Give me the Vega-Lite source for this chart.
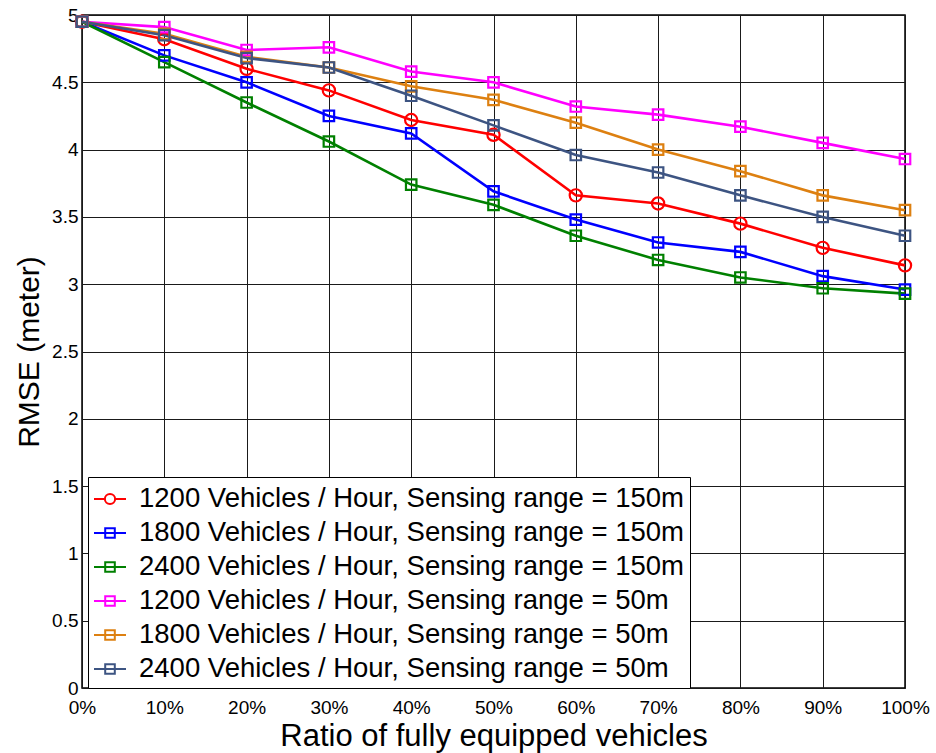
{
  "$schema": "https://vega.github.io/schema/vega-lite/v6.json",
  "width": 823,
  "height": 673,
  "autosize": "none",
  "padding": {"left": 82, "top": 15, "right": 31, "bottom": 65},
  "background": "white",
  "config": {
    "font": "Liberation Sans",
    "view": {"stroke": "black", "strokeWidth": 1.5},
    "axis": {
      "labelFont": "Liberation Sans",
      "labelFontSize": 19,
      "labelColor": "black",
      "labelFlush": false,
      "labelOverlap": false,
      "titleFont": "Liberation Sans",
      "titleFontWeight": "normal",
      "titleColor": "black",
      "grid": true,
      "gridColor": "#1a1a1a",
      "gridOpacity": 1,
      "gridWidth": 1,
      "domain": false,
      "ticks": false,
      "labelPadding": 4
    },
    "legend": {
      "strokeColor": "black",
      "fillColor": "white",
      "padding": 5,
      "labelFont": "Liberation Sans",
      "labelFontSize": 27.5,
      "labelColor": "black",
      "labelLimit": 1000,
      "labelOffset": 12,
      "symbolSize": 1024,
      "symbolStrokeWidth": 2,
      "symbolOpacity": 1,
      "symbolFillColor": "transparent",
      "rowPadding": 3
    }
  },
  "datasets": {
    "rmse": [
      {"series": "1200 Vehicles / Hour, Sensing range = 150m", "ratio": 0, "rmse": 4.95},
      {"series": "1200 Vehicles / Hour, Sensing range = 150m", "ratio": 10, "rmse": 4.82},
      {"series": "1200 Vehicles / Hour, Sensing range = 150m", "ratio": 20, "rmse": 4.60},
      {"series": "1200 Vehicles / Hour, Sensing range = 150m", "ratio": 30, "rmse": 4.44},
      {"series": "1200 Vehicles / Hour, Sensing range = 150m", "ratio": 40, "rmse": 4.22},
      {"series": "1200 Vehicles / Hour, Sensing range = 150m", "ratio": 50, "rmse": 4.11},
      {"series": "1200 Vehicles / Hour, Sensing range = 150m", "ratio": 60, "rmse": 3.66},
      {"series": "1200 Vehicles / Hour, Sensing range = 150m", "ratio": 70, "rmse": 3.60},
      {"series": "1200 Vehicles / Hour, Sensing range = 150m", "ratio": 80, "rmse": 3.45},
      {"series": "1200 Vehicles / Hour, Sensing range = 150m", "ratio": 90, "rmse": 3.27},
      {"series": "1200 Vehicles / Hour, Sensing range = 150m", "ratio": 100, "rmse": 3.14},
      {"series": "1800 Vehicles / Hour, Sensing range = 150m", "ratio": 0, "rmse": 4.95},
      {"series": "1800 Vehicles / Hour, Sensing range = 150m", "ratio": 10, "rmse": 4.70},
      {"series": "1800 Vehicles / Hour, Sensing range = 150m", "ratio": 20, "rmse": 4.50},
      {"series": "1800 Vehicles / Hour, Sensing range = 150m", "ratio": 30, "rmse": 4.25},
      {"series": "1800 Vehicles / Hour, Sensing range = 150m", "ratio": 40, "rmse": 4.12},
      {"series": "1800 Vehicles / Hour, Sensing range = 150m", "ratio": 50, "rmse": 3.69},
      {"series": "1800 Vehicles / Hour, Sensing range = 150m", "ratio": 60, "rmse": 3.48},
      {"series": "1800 Vehicles / Hour, Sensing range = 150m", "ratio": 70, "rmse": 3.31},
      {"series": "1800 Vehicles / Hour, Sensing range = 150m", "ratio": 80, "rmse": 3.24},
      {"series": "1800 Vehicles / Hour, Sensing range = 150m", "ratio": 90, "rmse": 3.06},
      {"series": "1800 Vehicles / Hour, Sensing range = 150m", "ratio": 100, "rmse": 2.96},
      {"series": "2400 Vehicles / Hour, Sensing range = 150m", "ratio": 0, "rmse": 4.95},
      {"series": "2400 Vehicles / Hour, Sensing range = 150m", "ratio": 10, "rmse": 4.65},
      {"series": "2400 Vehicles / Hour, Sensing range = 150m", "ratio": 20, "rmse": 4.35},
      {"series": "2400 Vehicles / Hour, Sensing range = 150m", "ratio": 30, "rmse": 4.06},
      {"series": "2400 Vehicles / Hour, Sensing range = 150m", "ratio": 40, "rmse": 3.74},
      {"series": "2400 Vehicles / Hour, Sensing range = 150m", "ratio": 50, "rmse": 3.59},
      {"series": "2400 Vehicles / Hour, Sensing range = 150m", "ratio": 60, "rmse": 3.36},
      {"series": "2400 Vehicles / Hour, Sensing range = 150m", "ratio": 70, "rmse": 3.18},
      {"series": "2400 Vehicles / Hour, Sensing range = 150m", "ratio": 80, "rmse": 3.05},
      {"series": "2400 Vehicles / Hour, Sensing range = 150m", "ratio": 90, "rmse": 2.97},
      {"series": "2400 Vehicles / Hour, Sensing range = 150m", "ratio": 100, "rmse": 2.93},
      {"series": "1200 Vehicles / Hour, Sensing range = 50m", "ratio": 0, "rmse": 4.95},
      {"series": "1200 Vehicles / Hour, Sensing range = 50m", "ratio": 10, "rmse": 4.91},
      {"series": "1200 Vehicles / Hour, Sensing range = 50m", "ratio": 20, "rmse": 4.74},
      {"series": "1200 Vehicles / Hour, Sensing range = 50m", "ratio": 30, "rmse": 4.76},
      {"series": "1200 Vehicles / Hour, Sensing range = 50m", "ratio": 40, "rmse": 4.58},
      {"series": "1200 Vehicles / Hour, Sensing range = 50m", "ratio": 50, "rmse": 4.50},
      {"series": "1200 Vehicles / Hour, Sensing range = 50m", "ratio": 60, "rmse": 4.32},
      {"series": "1200 Vehicles / Hour, Sensing range = 50m", "ratio": 70, "rmse": 4.26},
      {"series": "1200 Vehicles / Hour, Sensing range = 50m", "ratio": 80, "rmse": 4.17},
      {"series": "1200 Vehicles / Hour, Sensing range = 50m", "ratio": 90, "rmse": 4.05},
      {"series": "1200 Vehicles / Hour, Sensing range = 50m", "ratio": 100, "rmse": 3.93},
      {"series": "1800 Vehicles / Hour, Sensing range = 50m", "ratio": 0, "rmse": 4.95},
      {"series": "1800 Vehicles / Hour, Sensing range = 50m", "ratio": 10, "rmse": 4.86},
      {"series": "1800 Vehicles / Hour, Sensing range = 50m", "ratio": 20, "rmse": 4.69},
      {"series": "1800 Vehicles / Hour, Sensing range = 50m", "ratio": 30, "rmse": 4.61},
      {"series": "1800 Vehicles / Hour, Sensing range = 50m", "ratio": 40, "rmse": 4.47},
      {"series": "1800 Vehicles / Hour, Sensing range = 50m", "ratio": 50, "rmse": 4.37},
      {"series": "1800 Vehicles / Hour, Sensing range = 50m", "ratio": 60, "rmse": 4.20},
      {"series": "1800 Vehicles / Hour, Sensing range = 50m", "ratio": 70, "rmse": 4.00},
      {"series": "1800 Vehicles / Hour, Sensing range = 50m", "ratio": 80, "rmse": 3.84},
      {"series": "1800 Vehicles / Hour, Sensing range = 50m", "ratio": 90, "rmse": 3.66},
      {"series": "1800 Vehicles / Hour, Sensing range = 50m", "ratio": 100, "rmse": 3.55},
      {"series": "2400 Vehicles / Hour, Sensing range = 50m", "ratio": 0, "rmse": 4.95},
      {"series": "2400 Vehicles / Hour, Sensing range = 50m", "ratio": 10, "rmse": 4.85},
      {"series": "2400 Vehicles / Hour, Sensing range = 50m", "ratio": 20, "rmse": 4.68},
      {"series": "2400 Vehicles / Hour, Sensing range = 50m", "ratio": 30, "rmse": 4.61},
      {"series": "2400 Vehicles / Hour, Sensing range = 50m", "ratio": 40, "rmse": 4.40},
      {"series": "2400 Vehicles / Hour, Sensing range = 50m", "ratio": 50, "rmse": 4.18},
      {"series": "2400 Vehicles / Hour, Sensing range = 50m", "ratio": 60, "rmse": 3.96},
      {"series": "2400 Vehicles / Hour, Sensing range = 50m", "ratio": 70, "rmse": 3.83},
      {"series": "2400 Vehicles / Hour, Sensing range = 50m", "ratio": 80, "rmse": 3.66},
      {"series": "2400 Vehicles / Hour, Sensing range = 50m", "ratio": 90, "rmse": 3.50},
      {"series": "2400 Vehicles / Hour, Sensing range = 50m", "ratio": 100, "rmse": 3.36}
    ]
  },
  "data": {"name": "rmse"},
  "encoding": {
    "x": {
      "field": "ratio",
      "type": "quantitative",
      "scale": {"domain": [0, 100], "nice": false},
      "axis": {
        "title": "Ratio of fully equipped vehicles",
        "titleFontSize": 31,
        "values": [0, 10, 20, 30, 40, 50, 60, 70, 80, 90, 100],
        "labelExpr": "datum.value + '%'",
        "labelPadding": 10,
        "titlePadding": 4
      }
    },
    "y": {
      "field": "rmse",
      "type": "quantitative",
      "scale": {"domain": [0, 5], "nice": false},
      "axis": {
        "title": "RMSE (meter)",
        "titleFontSize": 30,
        "values": [0, 0.5, 1, 1.5, 2, 2.5, 3, 3.5, 4, 4.5, 5],
        "format": "~g",
        "titlePadding": 7
      }
    },
    "color": {
      "field": "series",
      "type": "nominal",
      "scale": {
        "domain": [
          "1200 Vehicles / Hour, Sensing range = 150m",
          "1800 Vehicles / Hour, Sensing range = 150m",
          "2400 Vehicles / Hour, Sensing range = 150m",
          "1200 Vehicles / Hour, Sensing range = 50m",
          "1800 Vehicles / Hour, Sensing range = 50m",
          "2400 Vehicles / Hour, Sensing range = 50m"
        ],
        "range": ["#ff0000", "#0000ff", "#008000", "#ff00ff", "#dd8011", "#3d5482"]
      },
      "legend": {"title": null, "orient": "none", "legendX": 6, "legendY": 462}
    }
  },
  "layer": [
    {
      "mark": {"type": "line", "strokeWidth": 2.6}
    },
    {
      "transform": [{"filter": "datum.series == '1200 Vehicles / Hour, Sensing range = 150m'"}],
      "mark": {"type": "point", "shape": "circle", "filled": false, "size": 150, "strokeWidth": 2.2, "opacity": 1}
    },
    {
      "transform": [{"filter": "datum.series != '1200 Vehicles / Hour, Sensing range = 150m'"}],
      "mark": {"type": "point", "shape": "square", "filled": false, "size": 110, "strokeWidth": 2.2, "opacity": 1}
    },
    {
      "mark": {"type": "point", "filled": false, "strokeWidth": 2, "opacity": 0},
      "encoding": {
        "shape": {
          "field": "series",
          "type": "nominal",
          "scale": {
            "domain": [
              "1200 Vehicles / Hour, Sensing range = 150m",
              "1800 Vehicles / Hour, Sensing range = 150m",
              "2400 Vehicles / Hour, Sensing range = 150m",
              "1200 Vehicles / Hour, Sensing range = 50m",
              "1800 Vehicles / Hour, Sensing range = 50m",
              "2400 Vehicles / Hour, Sensing range = 50m"
            ],
            "range": [
              "M-1,0H-0.32M0.32,0H1M-0.32,0A0.32,0.32 0 1,0 0.32,0A0.32,0.32 0 1,0 -0.32,0",
              "M-1,0H1M-0.3,-0.3H0.3V0.3H-0.3Z",
              "M-1,0H1M-0.3,-0.3H0.3V0.3H-0.3Z",
              "M-1,0H1M-0.3,-0.3H0.3V0.3H-0.3Z",
              "M-1,0H1M-0.3,-0.3H0.3V0.3H-0.3Z",
              "M-1,0H1M-0.3,-0.3H0.3V0.3H-0.3Z"
            ]
          },
          "legend": {"title": null, "orient": "none", "legendX": 6, "legendY": 462}
        }
      }
    }
  ]
}
